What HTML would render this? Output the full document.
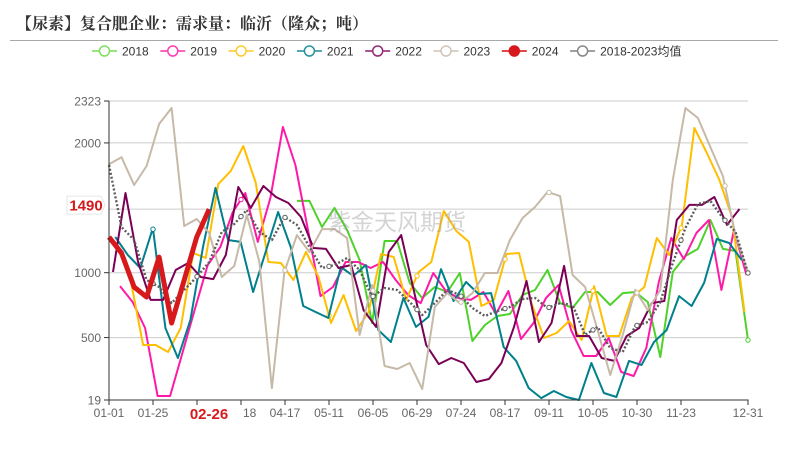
<!DOCTYPE html>
<html lang="zh">
<head>
<meta charset="utf-8">
<title>复合肥企业需求量</title>
<style>
html,body{margin:0;padding:0;background:#fff;}
svg{display:block;}
text{font-family:"Liberation Sans","Noto Sans CJK SC",sans-serif;}
</style>
</head>
<body>
<svg id="chart" width="789" height="460" viewBox="0 0 789 460" xmlns="http://www.w3.org/2000/svg">
  <rect x="0" y="0" width="789" height="460" fill="#fff"/>
  <text x="16" y="29" font-size="16" font-weight="700" fill="#333" style="font-family:'Liberation Serif','Noto Serif CJK SC',serif">【尿素】复合肥企业：需求量：临沂（隆众；吨）</text>
  <line x1="10" y1="40.5" x2="778" y2="40.5" stroke="#aaa" stroke-width="1"/>
  <g id="legend"></g>
  <g id="grid"></g>
  <g id="series"></g>
  <text x="328" y="230" font-size="23" fill="#999" fill-opacity="0.42" style="font-family:'Noto Sans CJK SC',sans-serif">紫金天风期货</text>
  <g id="axes"></g>
</svg>
<script>
const seriesNames = ["2018","2019","2020","2021","2022","2023","2024","2018-2023均值"];
const yTicks = [19,500,1000,2000,2323];
const pointerValue = 1490;
const pointerDate = "02-26";
const xTickLabels = ["01-01","01-25","02-18","03-18","04-17","05-11","06-05","06-29","07-24","08-17","09-11","10-05","10-30","11-23"];
const lastTickLabel = "12-31";

const values2018 = [1553,1553,1352,1499,1329,1098,612,1244,1244,921,805,890,851,998,474,597,666,682,828,867,1021,766,728,851,851,751,843,851,774,350,1005,1129,1183,1406,1183,1167,481];
const values2019 = [897,774,574,50,50,389,728,1059,1198,1468,1614,1237,1576,2123,1830,1329,820,890,1082,1082,1036,1082,944,828,766,998,859,805,790,851,682,859,489,612,805,905,558,358,358,497,235,204,420,928,1267,1105,1306,1406,867,1329,982];
const values2020 = [1198,944,443,443,389,574,1152,1113,1683,1784,1976,1691,1082,1075,944,1160,967,612,828,551,697,1144,1121,790,1005,1082,1475,1321,1237,743,790,1144,1152,766,497,535,628,481,897,512,512,805,890,1267,1136,1360,2115,1922,1714,1429,697];
const values2021 = [1275,1136,1036,1344,574,343,636,1198,1653,1252,1237,851,1159,1468,1198,743,697,651,1044,975,1059,558,466,805,582,659,1028,782,928,836,843,427,320,111,34,88,42,19,304,73,42,320,289,466,558,820,743,921,1260,1229,1098];
const values2022 = [1005,1614,1082,790,790,1021,1075,967,951,1136,1660,1499,1668,1583,1537,1429,1190,1183,1036,1059,712,582,1159,1290,867,443,296,343,304,158,181,304,582,936,466,612,1052,512,512,343,320,512,574,766,782,1406,1522,1522,1583,1368,1491];
const values2023 = [1836,1890,1676,1822,2146,2269,1360,1414,1306,967,1052,1445,1082,111,1005,1290,1159,1336,1336,1267,520,905,281,258,304,104,736,843,766,843,998,998,1252,1421,1506,1622,1590,982,890,558,212,520,867,712,867,1714,2269,2192,1968,1744,1290,998];
const values2024 = [1274,1151,890,812,1120,612,943,1274,1490];
const valuesAverage = [1830,1352,1252,944,890,766,867,967,1082,1314,1375,1483,1314,1252,1429,1368,1198,1036,1059,1113,1021,813,882,867,774,674,766,867,828,728,666,705,736,797,805,728,766,751,520,582,420,389,589,620,774,1075,1344,1529,1553,1421,1314,998];

const startWeek2018 = 15;
const startWeek2019 = 0.88;
const startWeek2020 = 0.72;
const startWeek2021 = 0.5;
const startWeek2022 = 0.32;
const startWeek2023 = 0;
const startWeek2024 = 0;
const startWeekAverage = 0;

const yMin = 19, yMax = 2323, lastWeek = 51;
const plotLeft = 109, plotRight = 748, plotTop = 101, plotBottom = 400, tickStep = 44;

function x(week){ return plotLeft + week * (plotRight - plotLeft) / lastWeek; }
function y(value){ return plotBottom - (value - yMin) * (plotBottom - plotTop) / (yMax - yMin); }
function tickX(index){ return plotLeft + tickStep * index; }

const NS = "http://www.w3.org/2000/svg";
function make(tag, attrs, parent){
  const el = document.createElementNS(NS, tag);
  for (const k in attrs) el.setAttribute(k, attrs[k]);
  parent.appendChild(el);
  return el;
}

const gridG = document.getElementById("grid");
const axesG = document.getElementById("axes");
const seriesG = document.getElementById("series");
const legendG = document.getElementById("legend");

yTicks.concat([pointerValue]).forEach(function(v){
  const line = make("line",{x1:plotLeft,x2:plotRight,y1:y(v),y2:y(v),stroke:"#ccc","stroke-width":1},gridG);
  
  
});

const seriesDefs = [
  {name:seriesNames[0],values:values2018,start:startWeek2018,color:"#4fd12c",legend:"#7ee05f",width:2,markers:[]},
  {name:seriesNames[1],values:values2019,start:startWeek2019,color:"#ff19a8",legend:"#ff3db5",width:2,markers:[3]},
  {name:seriesNames[2],values:values2020,start:startWeek2020,color:"#ffbe00",legend:"#ffcb33",width:2,markers:[5,7,9,11,13]},
  {name:seriesNames[3],values:values2021,start:startWeek2021,color:"#00808c",legend:"#2a929d",width:2,markers:[1]},
  {name:seriesNames[4],values:values2022,start:startWeek2022,color:"#7a0056",legend:"#932a73",width:2,markers:[]},
  {name:seriesNames[5],values:values2023,start:startWeek2023,color:"#c6b9a8",legend:"#d0c5b7",width:2,markers:[4,6,8,10,12,14]},
  {name:seriesNames[7],values:valuesAverage,start:startWeekAverage,color:"#5c5c5c",legend:"#888",width:2.4,dash:"2 2",markers:[1,2,3,4,5,6,7,8,9,10,11,12,13,14]},
  {name:seriesNames[6],values:values2024,start:startWeek2024,color:"#d7191c",legend:"#d7191c",width:5,markers:[]}
];

function valueAtX(def, px){
  const v = def.values;
  for (let i = 0; i < v.length - 1; i++){
    const x0 = x(def.start + i), x1 = x(def.start + i + 1);
    if (px >= x0 && px <= x1){
      const t = (px - x0) / (x1 - x0);
      return v[i] + (v[i + 1] - v[i]) * t;
    }
  }
  return v[v.length - 1];
}

seriesDefs.forEach(function(def){
  const pts = def.values.map(function(v,i){ return x(def.start + i).toFixed(1) + "," + y(v).toFixed(1); }).join(" ");
  const attrs = {points:pts,fill:"none",stroke:def.color,"stroke-width":def.width,"stroke-linejoin":"round","stroke-linecap":"butt"};
  if (def.dash) attrs["stroke-dasharray"] = def.dash;
  const line = make("polyline",attrs,seriesG);
  
  
  def.markers.forEach(function(idx){
    const px = tickX(idx);
    const dot = make("circle",{cx:px,cy:y(valueAtX(def,px)),r:2.2,fill:"#fff",stroke:def.color,"stroke-width":1},seriesG);
    
    
  });
});
[seriesDefs[0],seriesDefs[6]].forEach(function(def){
  const n = def.values.length - 1;
  const dot = make("circle",{cx:x(def.start + n),cy:y(def.values[n]),r:2.2,fill:"#fff",stroke:def.color,"stroke-width":1},seriesG);
  
  
});

/* axes */
const yAxis = make("line",{x1:plotLeft,x2:plotLeft,y1:plotTop,y2:plotBottom,stroke:"#333","stroke-width":1},axesG);


const xAxis = make("line",{x1:plotLeft-5,x2:plotRight+0.5,y1:plotBottom,y2:plotBottom,stroke:"#333","stroke-width":1},axesG);



yTicks.forEach(function(v){
  const t = make("line",{x1:plotLeft-5,x2:plotLeft,y1:y(v),y2:y(v),stroke:"#333","stroke-width":1},axesG);
  
  
  const l = make("text",{x:plotLeft-8,y:y(v)+4.5,"font-size":12,fill:"#666","text-anchor":"end"},axesG);
  
  
  l.textContent = v;
});

xTickLabels.forEach(function(label,i){
  const px = tickX(i);
  const t = make("line",{x1:px,x2:px,y1:plotBottom,y2:plotBottom+5,stroke:"#333","stroke-width":1},axesG);
  
  
  const l = make("text",{x:px,y:plotBottom+17,"font-size":12,fill:"#666","text-anchor":"middle"},axesG);
  
  
  l.textContent = label;
});
const lastTick = make("line",{x1:plotRight,x2:plotRight,y1:plotBottom,y2:plotBottom+5,stroke:"#333","stroke-width":1},axesG);


const lastLabel = make("text",{x:plotRight,y:plotBottom+17,"font-size":12,fill:"#666","text-anchor":"middle"},axesG);


lastLabel.textContent = lastTickLabel;

/* pointer labels */
const dateBox = make("rect",{x:176,y:plotBottom+5.5,width:67.5,height:20,fill:"#fff"},axesG);


const dateLabel = make("text",{x:209,y:plotBottom+19,"font-size":15,"font-weight":700,fill:"#d7191c","text-anchor":"middle"},axesG);


dateLabel.textContent = pointerDate;

const py = y(pointerValue) - 4;
const valueBox = make("path",{d:"M67 "+(py-9)+"H101L105 "+py+"L101 "+(py+9)+"H67Z",fill:"#fff",stroke:"#e6e6e6","stroke-width":1},axesG);


const valueLabel = make("text",{x:86,y:py+5.5,"font-size":15,"font-weight":700,fill:"#d7191c","text-anchor":"middle"},axesG);


valueLabel.textContent = pointerValue;

/* legend */
const legendOrder = [0,1,2,3,4,5,7,6];
const legendXStart = 92, legendStep = 68.3, legendY = 51;
legendOrder.forEach(function(defIdx,i){
  const def = seriesDefs[defIdx];
  const left = legendXStart + legendStep * i;
  const entry = make("g",{},legendG);
  
  
  const ln = make("line",{x1:left,x2:left+25,y1:legendY,y2:legendY,stroke:def.legend,"stroke-width":2,"stroke-opacity":0.8},entry);
  
  
  const filled = def.name === "2024";
  const c = make("circle",{cx:left+12.5,cy:legendY,r:5,fill:filled ? def.color : "#fff",stroke:def.legend,"stroke-width":1.5},entry);
  
  
  const tx = make("text",{x:left+30,y:legendY+4.5,"font-size":12,fill:"#333"},entry);
  
  
  tx.textContent = def.name;
});
</script>
</body>
</html>
